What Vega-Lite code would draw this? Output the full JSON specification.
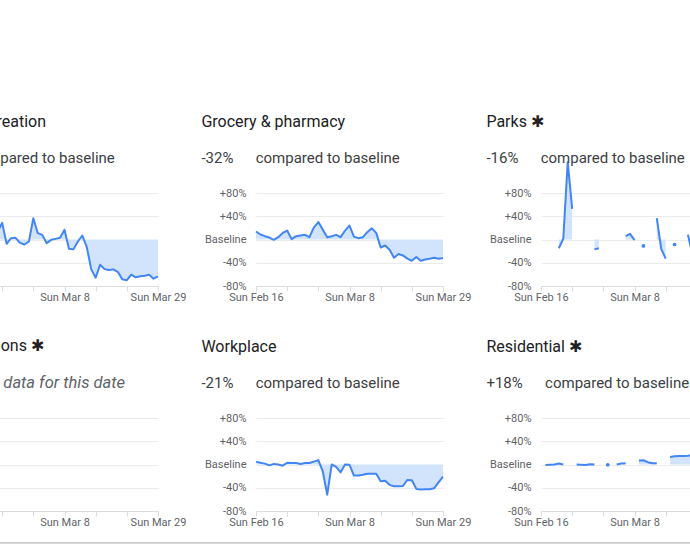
{
  "$schema": "https://vega.github.io/schema/vega-lite/v6.json",
  "description": "Community mobility: change in visits compared to baseline, Feb 16 - Mar 29 2020.",
  "usermeta": {"embedOptions": {"actions": false}},
  "padding": {"left": -84, "top": 114, "right": -57, "bottom": 0},
  "background": "white",
  "data": {
    "values": [
      {"date": "2020-02-16", "retail": 6, "grocery": 13.7, "parks": null, "workplace": 5, "residential": null},
      {"date": "2020-02-17", "retail": 10, "grocery": 8.6, "parks": null, "workplace": 3, "residential": -1},
      {"date": "2020-02-18", "retail": 4, "grocery": 5.7, "parks": null, "workplace": 1.5, "residential": -0.5},
      {"date": "2020-02-19", "retail": 2, "grocery": 3.4, "parks": null, "workplace": -1.5, "residential": 0},
      {"date": "2020-02-20", "retail": 5, "grocery": -0.6, "parks": -15, "workplace": 1, "residential": 1.7},
      {"date": "2020-02-21", "retail": 12, "grocery": 4, "parks": 1, "workplace": 0, "residential": 0},
      {"date": "2020-02-22", "retail": 14, "grocery": 11.4, "parks": 133, "workplace": -2, "residential": null},
      {"date": "2020-02-23", "retail": 28.6, "grocery": 15.4, "parks": 52.6, "workplace": 3, "residential": null},
      {"date": "2020-02-24", "retail": -7.4, "grocery": 0.6, "parks": null, "workplace": 2.5, "residential": 0},
      {"date": "2020-02-25", "retail": 2.3, "grocery": 5.7, "parks": null, "workplace": 2.5, "residential": -0.5},
      {"date": "2020-02-26", "retail": 2.9, "grocery": 6.9, "parks": null, "workplace": 1, "residential": -1},
      {"date": "2020-02-27", "retail": -5.7, "grocery": 8, "parks": null, "workplace": 2.5, "residential": 0.5},
      {"date": "2020-02-28", "retail": -8.6, "grocery": 4, "parks": -17, "workplace": 2.5, "residential": 0},
      {"date": "2020-02-29", "retail": -3.4, "grocery": 21, "parks": -15, "workplace": 5, "residential": null},
      {"date": "2020-03-01", "retail": 36.6, "grocery": 30, "parks": null, "workplace": 7.5, "residential": null},
      {"date": "2020-03-02", "retail": 10.9, "grocery": 17, "parks": null, "workplace": -12, "residential": -0.5},
      {"date": "2020-03-03", "retail": 8, "grocery": 4, "parks": null, "workplace": -52, "residential": null},
      {"date": "2020-03-04", "retail": -6.3, "grocery": 5.7, "parks": null, "workplace": 0, "residential": 0},
      {"date": "2020-03-05", "retail": -0.6, "grocery": 8, "parks": null, "workplace": -4, "residential": 1.7},
      {"date": "2020-03-06", "retail": 1.1, "grocery": 4, "parks": 5.7, "workplace": -13.5, "residential": 2},
      {"date": "2020-03-07", "retail": 2.9, "grocery": 15.4, "parks": 9.7, "workplace": 0, "residential": null},
      {"date": "2020-03-08", "retail": 16.6, "grocery": 24, "parks": -1, "workplace": -0.5, "residential": null},
      {"date": "2020-03-09", "retail": -16, "grocery": 5, "parks": null, "workplace": -19, "residential": 6.8},
      {"date": "2020-03-10", "retail": -17, "grocery": 2.3, "parks": -11, "workplace": -19, "residential": 7.3},
      {"date": "2020-03-11", "retail": -3.4, "grocery": 4, "parks": null, "workplace": -17.6, "residential": 4},
      {"date": "2020-03-12", "retail": 6.9, "grocery": 12.6, "parks": null, "workplace": -16, "residential": 2.3},
      {"date": "2020-03-13", "retail": -13, "grocery": 19.4, "parks": 36.6, "workplace": -16, "residential": 2.3},
      {"date": "2020-03-14", "retail": -51, "grocery": 11.4, "parks": -16, "workplace": -16, "residential": null},
      {"date": "2020-03-15", "retail": -65.7, "grocery": -13.7, "parks": -33, "workplace": -29, "residential": null},
      {"date": "2020-03-16", "retail": -43.4, "grocery": -10.3, "parks": null, "workplace": -28, "residential": 13},
      {"date": "2020-03-17", "retail": -51, "grocery": -17.7, "parks": -8.6, "workplace": -35, "residential": 14},
      {"date": "2020-03-18", "retail": -52.6, "grocery": -31.4, "parks": null, "workplace": -37.6, "residential": 14.6},
      {"date": "2020-03-19", "retail": -51.4, "grocery": -25, "parks": null, "workplace": -37.6, "residential": 14.6},
      {"date": "2020-03-20", "retail": -56, "grocery": -27.4, "parks": 8, "workplace": -37, "residential": 15.2},
      {"date": "2020-03-21", "retail": -68.6, "grocery": -33, "parks": -25, "workplace": -26.5, "residential": 16},
      {"date": "2020-03-22", "retail": -70, "grocery": -36.6, "parks": -20, "workplace": -27, "residential": 16.5},
      {"date": "2020-03-23", "retail": -60.6, "grocery": -30, "parks": -14, "workplace": -42, "residential": 17},
      {"date": "2020-03-24", "retail": -65, "grocery": -36.6, "parks": -18, "workplace": -43, "residential": 17.5},
      {"date": "2020-03-25", "retail": -63.4, "grocery": -34.3, "parks": -22, "workplace": -42.6, "residential": 18},
      {"date": "2020-03-26", "retail": -62.3, "grocery": -33, "parks": -15, "workplace": -42.6, "residential": 18},
      {"date": "2020-03-27", "retail": -60.6, "grocery": -31.4, "parks": -19, "workplace": -41, "residential": 17.5},
      {"date": "2020-03-28", "retail": -67.4, "grocery": -33, "parks": -12, "workplace": -30.6, "residential": 18},
      {"date": "2020-03-29", "retail": -63.4, "grocery": -32, "parks": -16, "workplace": -21, "residential": 18}
    ]
  },
  "columns": 3,
  "bounds": "flush",
  "spacing": {"row": 132, "column": 98},
  "concat": [
    {
      "title": {"text": "Retail & recreation", "subtitle": "-63%\u00a0\u00a0\u00a0\u00a0\u00a0 compared to baseline"},
      "width": 187, "height": 93,
      "encoding": {
        "x": {"field": "date", "type": "temporal", "scale": {"type": "utc", "domain": [{"year": 2020, "month": 2, "date": 16, "utc": true}, {"year": 2020, "month": 3, "date": 29, "utc": true}]},
          "axis": {"title": null, "values": [{"year": 2020, "month": 2, "date": 16, "utc": true}, {"year": 2020, "month": 2, "date": 23, "utc": true}, {"year": 2020, "month": 3, "date": 1, "utc": true}, {"year": 2020, "month": 3, "date": 8, "utc": true}, {"year": 2020, "month": 3, "date": 15, "utc": true}, {"year": 2020, "month": 3, "date": 22, "utc": true}, {"year": 2020, "month": 3, "date": 29, "utc": true}],
            "labelExpr": "utcdate(datum.value) == 16 || utcdate(datum.value) == 8 || utcdate(datum.value) == 29 ? utcFormat(datum.value, '%a %b %-d') : ''"}},
        "y": {"field": "retail", "type": "quantitative", "scale": {"domain": [-80, 80], "nice": false, "zero": false},
          "axis": {"title": null, "values": [-80, -40, 0, 40, 80], "labelExpr": "datum.value == 0 ? 'Baseline' : (datum.value > 0 ? '+' : '') + datum.value + '%'"}}
      },
      "layer": [
        {"mark": {"type": "area", "color": "#d2e3fc", "opacity": 1, "invalid": "break-paths-show-domains"}, "encoding": {"y2": {"datum": 0}}},
        {"mark": {"type": "line", "color": "#4285f4", "strokeWidth": 2, "strokeJoin": "round", "invalid": "break-paths-show-domains"}}
      ]
    },
    {
      "title": {"text": "Grocery & pharmacy", "subtitle": "-32%\u00a0\u00a0\u00a0\u00a0\u00a0 compared to baseline"},
      "width": 187, "height": 93,
      "encoding": {
        "x": {"field": "date", "type": "temporal", "scale": {"type": "utc", "domain": [{"year": 2020, "month": 2, "date": 16, "utc": true}, {"year": 2020, "month": 3, "date": 29, "utc": true}]},
          "axis": {"title": null, "values": [{"year": 2020, "month": 2, "date": 16, "utc": true}, {"year": 2020, "month": 2, "date": 23, "utc": true}, {"year": 2020, "month": 3, "date": 1, "utc": true}, {"year": 2020, "month": 3, "date": 8, "utc": true}, {"year": 2020, "month": 3, "date": 15, "utc": true}, {"year": 2020, "month": 3, "date": 22, "utc": true}, {"year": 2020, "month": 3, "date": 29, "utc": true}],
            "labelExpr": "utcdate(datum.value) == 16 || utcdate(datum.value) == 8 || utcdate(datum.value) == 29 ? utcFormat(datum.value, '%a %b %-d') : ''"}},
        "y": {"field": "grocery", "type": "quantitative", "scale": {"domain": [-80, 80], "nice": false, "zero": false},
          "axis": {"title": null, "values": [-80, -40, 0, 40, 80], "labelExpr": "datum.value == 0 ? 'Baseline' : (datum.value > 0 ? '+' : '') + datum.value + '%'"}}
      },
      "layer": [
        {"mark": {"type": "area", "color": "#d2e3fc", "opacity": 1, "invalid": "break-paths-show-domains"}, "encoding": {"y2": {"datum": 0}}},
        {"mark": {"type": "line", "color": "#4285f4", "strokeWidth": 2, "strokeJoin": "round", "invalid": "break-paths-show-domains"}}
      ]
    },
    {
      "title": {"text": "Parks \u2731", "subtitle": "-16%\u00a0\u00a0\u00a0\u00a0\u00a0 compared to baseline", "offset": -5},
      "width": 187, "height": 93,
      "encoding": {
        "x": {"field": "date", "type": "temporal", "scale": {"type": "utc", "domain": [{"year": 2020, "month": 2, "date": 16, "utc": true}, {"year": 2020, "month": 3, "date": 29, "utc": true}]},
          "axis": {"title": null, "values": [{"year": 2020, "month": 2, "date": 16, "utc": true}, {"year": 2020, "month": 2, "date": 23, "utc": true}, {"year": 2020, "month": 3, "date": 1, "utc": true}, {"year": 2020, "month": 3, "date": 8, "utc": true}, {"year": 2020, "month": 3, "date": 15, "utc": true}, {"year": 2020, "month": 3, "date": 22, "utc": true}, {"year": 2020, "month": 3, "date": 29, "utc": true}],
            "labelExpr": "utcdate(datum.value) == 16 || utcdate(datum.value) == 8 || utcdate(datum.value) == 29 ? utcFormat(datum.value, '%a %b %-d') : ''"}},
        "y": {"field": "parks", "type": "quantitative", "scale": {"domain": [-80, 80], "nice": false, "zero": false},
          "axis": {"title": null, "values": [-80, -40, 0, 40, 80], "labelExpr": "datum.value == 0 ? 'Baseline' : (datum.value > 0 ? '+' : '') + datum.value + '%'"}}
      },
      "layer": [
        {"mark": {"type": "area", "color": "#d2e3fc", "opacity": 1, "invalid": "break-paths-show-domains"}, "encoding": {"y2": {"datum": 0}}},
        {"mark": {"type": "line", "color": "#4285f4", "strokeWidth": 2, "strokeJoin": "round", "invalid": "break-paths-show-domains"}},
        {
          "transform": [
            {"window": [{"op": "lag", "field": "parks", "as": "prev"}, {"op": "lead", "field": "parks", "as": "next"}], "sort": [{"field": "date"}]},
            {"filter": "isValid(datum.parks) && !isValid(datum.prev) && !isValid(datum.next)"}
          ],
          "mark": {"type": "point", "filled": true, "color": "#4285f4", "opacity": 1, "size": 14}
        }
      ]
    },
    {
      "title": {"text": "Transit stations \u2731", "subtitle": "Not enough data for this date", "subtitleFontStyle": "italic", "subtitleColor": "#5f6368", "subtitleFontSize": 16.5},
      "width": 187, "height": 93,
      "encoding": {
        "x": {"field": "date", "type": "temporal", "scale": {"type": "utc", "domain": [{"year": 2020, "month": 2, "date": 16, "utc": true}, {"year": 2020, "month": 3, "date": 29, "utc": true}]},
          "axis": {"title": null, "values": [{"year": 2020, "month": 2, "date": 16, "utc": true}, {"year": 2020, "month": 2, "date": 23, "utc": true}, {"year": 2020, "month": 3, "date": 1, "utc": true}, {"year": 2020, "month": 3, "date": 8, "utc": true}, {"year": 2020, "month": 3, "date": 15, "utc": true}, {"year": 2020, "month": 3, "date": 22, "utc": true}, {"year": 2020, "month": 3, "date": 29, "utc": true}],
            "labelExpr": "utcdate(datum.value) == 16 || utcdate(datum.value) == 8 || utcdate(datum.value) == 29 ? utcFormat(datum.value, '%a %b %-d') : ''"}},
        "y": {"field": "transit", "type": "quantitative", "scale": {"domain": [-80, 80], "nice": false, "zero": false},
          "axis": {"title": null, "values": [-80, -40, 0, 40, 80], "labelExpr": "datum.value == 0 ? 'Baseline' : (datum.value > 0 ? '+' : '') + datum.value + '%'"}}
      },
      "layer": [
        {"mark": {"type": "line", "color": "#4285f4", "strokeWidth": 2, "invalid": "break-paths-show-domains"}},
        {
          "data": {"values": [{"date": "2020-02-16", "date_end": "2020-08-01", "transit": -135}]},
          "mark": {"type": "rule", "color": "#b4b4b4", "strokeWidth": 1.3},
          "encoding": {"x2": {"field": "date_end"}}
        }
      ]
    },
    {
      "title": {"text": "Workplace", "subtitle": "-21%\u00a0\u00a0\u00a0\u00a0\u00a0 compared to baseline"},
      "width": 187, "height": 93,
      "encoding": {
        "x": {"field": "date", "type": "temporal", "scale": {"type": "utc", "domain": [{"year": 2020, "month": 2, "date": 16, "utc": true}, {"year": 2020, "month": 3, "date": 29, "utc": true}]},
          "axis": {"title": null, "values": [{"year": 2020, "month": 2, "date": 16, "utc": true}, {"year": 2020, "month": 2, "date": 23, "utc": true}, {"year": 2020, "month": 3, "date": 1, "utc": true}, {"year": 2020, "month": 3, "date": 8, "utc": true}, {"year": 2020, "month": 3, "date": 15, "utc": true}, {"year": 2020, "month": 3, "date": 22, "utc": true}, {"year": 2020, "month": 3, "date": 29, "utc": true}],
            "labelExpr": "utcdate(datum.value) == 16 || utcdate(datum.value) == 8 || utcdate(datum.value) == 29 ? utcFormat(datum.value, '%a %b %-d') : ''"}},
        "y": {"field": "workplace", "type": "quantitative", "scale": {"domain": [-80, 80], "nice": false, "zero": false},
          "axis": {"title": null, "values": [-80, -40, 0, 40, 80], "labelExpr": "datum.value == 0 ? 'Baseline' : (datum.value > 0 ? '+' : '') + datum.value + '%'"}}
      },
      "layer": [
        {"mark": {"type": "area", "color": "#d2e3fc", "opacity": 1, "invalid": "break-paths-show-domains"}, "encoding": {"y2": {"datum": 0}}},
        {"mark": {"type": "line", "color": "#4285f4", "strokeWidth": 2, "strokeJoin": "round", "invalid": "break-paths-show-domains"}}
      ]
    },
    {
      "title": {"text": "Residential \u2731", "subtitle": "+18%\u00a0\u00a0\u00a0\u00a0\u00a0 compared to baseline"},
      "width": 187, "height": 93,
      "encoding": {
        "x": {"field": "date", "type": "temporal", "scale": {"type": "utc", "domain": [{"year": 2020, "month": 2, "date": 16, "utc": true}, {"year": 2020, "month": 3, "date": 29, "utc": true}]},
          "axis": {"title": null, "values": [{"year": 2020, "month": 2, "date": 16, "utc": true}, {"year": 2020, "month": 2, "date": 23, "utc": true}, {"year": 2020, "month": 3, "date": 1, "utc": true}, {"year": 2020, "month": 3, "date": 8, "utc": true}, {"year": 2020, "month": 3, "date": 15, "utc": true}, {"year": 2020, "month": 3, "date": 22, "utc": true}, {"year": 2020, "month": 3, "date": 29, "utc": true}],
            "labelExpr": "utcdate(datum.value) == 16 || utcdate(datum.value) == 8 || utcdate(datum.value) == 29 ? utcFormat(datum.value, '%a %b %-d') : ''"}},
        "y": {"field": "residential", "type": "quantitative", "scale": {"domain": [-80, 80], "nice": false, "zero": false},
          "axis": {"title": null, "values": [-80, -40, 0, 40, 80], "labelExpr": "datum.value == 0 ? 'Baseline' : (datum.value > 0 ? '+' : '') + datum.value + '%'"}}
      },
      "layer": [
        {"mark": {"type": "area", "color": "#d2e3fc", "opacity": 1, "invalid": "break-paths-show-domains"}, "encoding": {"y2": {"datum": 0}}},
        {"mark": {"type": "line", "color": "#4285f4", "strokeWidth": 2, "strokeJoin": "round", "invalid": "break-paths-show-domains"}},
        {
          "transform": [
            {"window": [{"op": "lag", "field": "residential", "as": "prev"}, {"op": "lead", "field": "residential", "as": "next"}], "sort": [{"field": "date"}]},
            {"filter": "isValid(datum.residential) && !isValid(datum.prev) && !isValid(datum.next)"}
          ],
          "mark": {"type": "point", "filled": true, "color": "#4285f4", "opacity": 1, "size": 14}
        }
      ]
    }
  ],
  "config": {
    "font": "Roboto",
    "view": {"stroke": null},
    "title": {"anchor": "start", "frame": "bounds", "font": "Roboto", "fontSize": 16, "fontWeight": "normal", "color": "#202124", "subtitleFont": "Roboto", "subtitleFontSize": 15, "subtitleColor": "#3c4043", "subtitlePadding": 21, "offset": 21, "dx": -3},
    "axisX": {"grid": false, "domainColor": "#dadce0", "tickColor": "#dadce0", "tickSize": 5, "labelPadding": 0, "labelColor": "#5f6368", "labelFontSize": 11, "labelFlush": false, "labelOverlap": false},
    "axisY": {"grid": true, "gridColor": "#ebebeb", "domain": false, "ticks": false, "tickSize": 0, "labelPadding": 10, "labelColor": "#5f6368", "labelFontSize": 11, "labelOverlap": false}
  }
}
